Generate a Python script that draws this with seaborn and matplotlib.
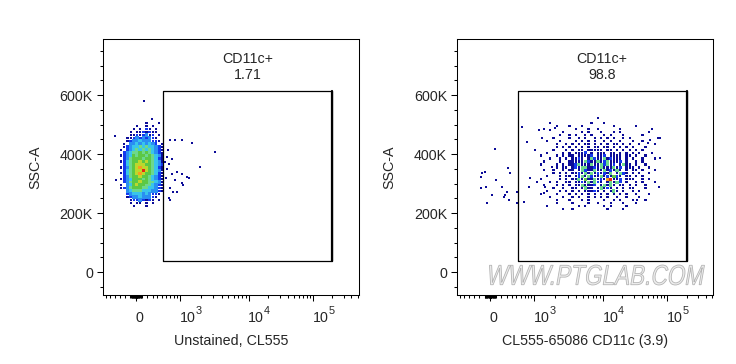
import numpy as np
import pandas as pd
import matplotlib
matplotlib.use('Agg')
import matplotlib.pyplot as plt
import matplotlib.ticker as mticker
import seaborn as sns
from matplotlib.textpath import TextPath
from matplotlib.patches import PathPatch
from matplotlib.font_manager import FontProperties
from matplotlib.transforms import Affine2D

# ---- data ----
# density level per cell (1-9, '.' = empty); cells are 0.05 biex-decades wide and 10K tall
GRID_DU = 0.05
GRID_DY = 10000
left_grid_u0 = -0.26      # left edge of first column (biex units)
left_grid_ytop = 505000   # centre of first row (SSC-A)
left_grid = [
    "........1...1.",
    ".....1..1.1...",
    "....1.1.21.1..",
    "...1.1121211..",
    "...11212312.1.",
    "..1123232321..",
    "..12334333221.",
    ".1.334343432.1",
    ".1234454544321",
    "1.234545454321",
    ".2345565654321",
    "12346566565431",
    ".2356665665421",
    "12456676765431",
    ".2456777665432",
    "12356787765421",
    ".2456779765431",
    "12456787665421",
    ".2356676654321",
    "12346665654321",
    ".2356676655431",
    "1.346766554321",
    ".2356665544321",
    "..345554443321",
    "..23444343221.",
    "..1233433321..",
    "...12232121.1.",
    "...1.11.1.1...",
    "....1...1.....",
]

right_grid_u0 = 0.72
right_grid_ytop = 505000
right_grid = [
    "....1..... .......1.. .1........ ..........",
    "......1... 1...1..... ....1..... .1........",
    "..1....... ..1...1..1 ......1... ......1...",
    "........1. ....1.1... 1...1.1... .....1....",
    ".......1.. 1.1..1.1.. .1.1...1.. ...1......",
    ".....1.... 1..1.1..1. 1.1.1..1.1 ........1.",
    "...1...1.. ..1.1.1.1. .1.1..1... 1..1......",
    "......1..1 .1.1.11.1. 1.1.11.1.1 ..1....1..",
    "......1.1. 1.1.1.1.11 .11.1.1.1. 1...1.....",
    ".....1...1 .1.11.1111 1.11.1.1.1 .1.1......",
    "...1....1. 1.1112.1.1 11.11.1.1. 1.1...1...",
    ".1....1.1. 11.11112.1 12.1111.11 .1..1.....",
    "....1..1.1 .1121.1521 1512111.1. 1..1...1..",
    "..1....1.. 1111152115 1251112.1. .1.1......",
    ".1....1.1. 1125111511 52512.1511 .1..1.....",
    "......1.11 .121551121 5111512.11 1.1..1....",
    "..1..1..1. 11.1521151 1512151.1. 11.1...1..",
    ".....1.1.1 .112151512 1215.1521. 1.1..1....",
    "...1...1.1 1.12515211 5121621.11 .1.1......",
    ".1.....1.1 .115161151 2189112.11 1..1.1....",
    "....1.1..1 1.11215152 1.15152.1. .1.1...1..",
    "..1...1.1. 1.1151112. 15151.11.1 .1..1.....",
    ".....1..1. .11.1511.1 5121.1.1.1 1...1.....",
    "...1...1.1 .1.1.11121 .1.151.1.. 1.1.......",
    ".1....1... 1.1.1.1.1. 1.1.1.1.1. .1...1....",
    "....1...1. .1.1..1.1. 1.1..1..1. ..1.......",
    "......1... 1...1.1... .1..1.1... 1...1.....",
    "......1... .1....1..1 ...1...1.. .1........",
    "...1...... ...1.1.... .1.1....1. ..........",
    "........1. .1........ ..1....1.. ..........",
]

# sparse events outside the grids (CL555 value, SSC-A)
left_out_x = [143, 285, 192, -392, -371, -278, 694, 835, 1057, 1475, 3183, 1940,
              650, 609, 740, 675, 625, 740, 888, 1057, 1249, 835, 1057, 694,
              785, 675, 569, 592, 1092, 1362, 694, 888]
left_out_y = [581e3, 518e3, 506e3, 461e3, 314e3, 284e3, 447e3, 447e3, 447e3, 436e3, 406e3, 357e3,
              414e3, 391e3, 385e3, 368e3, 351e3, 334e3, 340e3, 334e3, 323e3, 312e3, 301e3, 284e3,
              272e3, 250e3, 374e3, 318e3, 297e3, 320e3, 246e3, 272e3]
right_out_x = [-148, -89, -161, -166, -58, 89, 106, 210, 240, 305, 357, 330, 514, 514, 634,
               768, 814, 866, 1032, 1154, 1292, 1362, 1441, 1700, 2005, 1092, 1799, 675,
               -71, 30, 272, 336, 8558, 77.7e3, 54.3e3, 50.5e3, 77.7e3, 73.1e3, 33.7e3]
right_out_y = [337e3, 340e3, 323e3, 284e3, 233e3, 417e3, 312e3, 289e3, 255e3, 272e3, 335e3, 354e3,
               272e3, 233e3, 493e3, 442e3, 289e3, 318e3, 414e3, 481e3, 453e3, 267e3, 289e3, 481e3,
               487e3, 306e3, 357e3, 238e3, 289e3, 261e3, 261e3, 244e3, 522e3, 386e3, 447e3, 437e3,
               453e3, 289e3, 244e3]

gate_x = [530, 200000]
gate_y = [38000, 614000]
gate_name = "CD11c+"
gate_pct = ["1.71", "98.8"]
x_titles = ["Unstained, CL555", "CL555-65086 CD11c (3.9)"]
y_title = "SSC-A"

x_major = [0, 1e3, 1e4, 1e5]
x_major_base = ["0", "10", "10", "10"]
x_major_exp = ["", "3", "4", "5"]
y_major = [0, 200000, 400000, 600000]
y_major_labels = ["0", "200K", "400K", "600K"]

level_colors = {1: '#0c0c98', 2: '#1438ee', 3: '#2a8ef2', 4: '#38c4ec', 5: '#6cd88c',
                6: '#5cc844', 7: '#bcd82c', 8: '#f4a020', 9: '#e82414'}
level_sizes = {1: 2.6, 2: 3.6, 3: 6.0, 4: 6.0, 5: 5.2, 6: 6.0, 7: 6.0, 8: 6.0, 9: 6.0}

# ---- biexponential (logicle-like) display scale ----
P = 2.0
S = 162.5


def biex_inv(u):
    u = np.asarray(u, dtype=float)
    a = np.abs(u)
    return np.sign(u) * S * (10 ** a - P ** 2 * 10 ** (-a / P) + P ** 2 - 1)


_u_tab = np.linspace(-1.5, 4.2, 11401)
_x_tab = biex_inv(_u_tab)


def biex_fwd(x):
    return np.interp(np.asarray(x, dtype=float), _x_tab, _u_tab)


def grid_cells(rows, u0, ytop):
    recs = []
    for j, row in enumerate(rows):
        row = row.replace(' ', '')
        for i, ch in enumerate(row):
            if ch != '.':
                recs.append((float(biex_inv(u0 + (i + 0.5) * GRID_DU)), ytop - j * GRID_DY, int(ch)))
    return pd.DataFrame(recs, columns=['x', 'y', 'level'])


sns.set_style('ticks')
plt.rcParams['font.family'] = ['Liberation Sans', 'DejaVu Sans']
plt.rcParams['axes.edgecolor'] = 'black'
plt.rcParams['axes.linewidth'] = 0.75

fig = plt.figure(figsize=(7.36, 3.64), dpi=100)
axes = [fig.add_axes([0.140, 0.189, 0.348, 0.703]),
        fig.add_axes([0.6213, 0.189, 0.348, 0.703])]

panels = [
    (grid_cells(left_grid, left_grid_u0, left_grid_ytop), left_out_x, left_out_y),
    (grid_cells(right_grid, right_grid_u0, right_grid_ytop), right_out_x, right_out_y),
]

x_minor = sorted(set(s * m * 10 ** k for s in (-1, 1) for k in range(0, 6) for m in range(1, 10)))
FS = 10.3

for k, ax in enumerate(axes):
    cells, ox, oy = panels[k]
    ax.set_xscale('function', functions=(biex_fwd, biex_inv))
    sns.scatterplot(data=cells, x='x', y='y', hue='level', palette=level_colors,
                    size='level', sizes=level_sizes, marker='s', linewidth=0,
                    legend=False, ax=ax, zorder=3)
    sns.scatterplot(x=ox, y=oy, color=level_colors[1], marker='s', s=2.6,
                    linewidth=0, legend=False, ax=ax, zorder=3)

    # gate
    gx0, gx1 = gate_x
    gy0, gy1 = gate_y
    ax.plot([gx0, gx1, gx1, gx0, gx0], [gy0, gy0, gy1, gy1, gy0], color='black', lw=0.9, zorder=4)
    ax.plot([gx1, gx1], [gy0, gy1], color='black', lw=1.6, zorder=4)
    xc = float(biex_inv((biex_fwd(gx0) + biex_fwd(gx1)) / 2))
    ax.annotate(gate_name + "\n" + gate_pct[k], xy=(xc, gy1), xytext=(0, 6.5),
                textcoords='offset points', ha='center', va='bottom', fontsize=FS,
                linespacing=1.15)

    ax.set_xlim(-668, 529000)
    ax.set_ylim(-78000, 789000)

    ax.xaxis.set_major_locator(mticker.FixedLocator(x_major))
    ax.xaxis.set_minor_locator(mticker.FixedLocator(x_minor))
    ax.yaxis.set_major_locator(mticker.FixedLocator(y_major))
    ax.yaxis.set_major_formatter(mticker.FixedFormatter(y_major_labels))
    ax.yaxis.set_minor_locator(mticker.FixedLocator(np.arange(-50000, 760000, 50000)))

    ax.tick_params(axis='both', which='major', length=4.3, width=0.75, labelsize=FS,
                   direction='out', color='black')
    ax.tick_params(axis='both', which='minor', length=2.2, width=0.75, direction='out', color='black')
    ax.tick_params(axis='x', which='both', labelbottom=False)
    ax.tick_params(axis='y', which='major', pad=3)

    # x tick labels: base on a common baseline, exponent raised
    xt = ax.get_xaxis_transform()
    for v, base, ex in zip(x_major, x_major_base, x_major_exp):
        ax.annotate(base, xy=(v, 0), xycoords=xt, xytext=(-0.3, -19.2), textcoords='offset points',
                    ha='left', va='baseline', fontsize=FS, annotation_clip=False)
        if ex:
            ax.annotate(ex, xy=(v, 0), xycoords=xt, xytext=(11.0, -13.4), textcoords='offset points',
                        ha='left', va='baseline', fontsize=7.8, annotation_clip=False)

    for sp in ax.spines.values():
        sp.set_visible(True)
        sp.set_linewidth(0.75)
        sp.set_color('black')

    ax.set_xlabel(x_titles[k], fontsize=FS)
    ax.set_ylabel(y_title, fontsize=FS)
    ax.xaxis.set_label_coords(0.5, -0.15)
    ax.xaxis.label.set_va('top')
    ax.yaxis.set_label_coords(-0.238, 0.5)

# watermark on the right panel
fp = FontProperties(family='Liberation Sans')
tp = TextPath((0, 0), "WWW.PTGLAB.COM", size=1, prop=fp)
ext = tp.get_extents()
sx = 215.0 / ext.width
sy = 20.0 / ext.height
trans = (Affine2D().translate(-ext.x0, -ext.y0).scale(sx, sy).skew_deg(10, 0)
         .translate(486, 79).scale(1.0 / fig.dpi) + fig.dpi_scale_trans)
fig.add_artist(PathPatch(tp, transform=trans, facecolor='#ededed', edgecolor='#b4b4b4',
                         lw=0.6, zorder=10))

fig.savefig('out.png', dpi=100)
